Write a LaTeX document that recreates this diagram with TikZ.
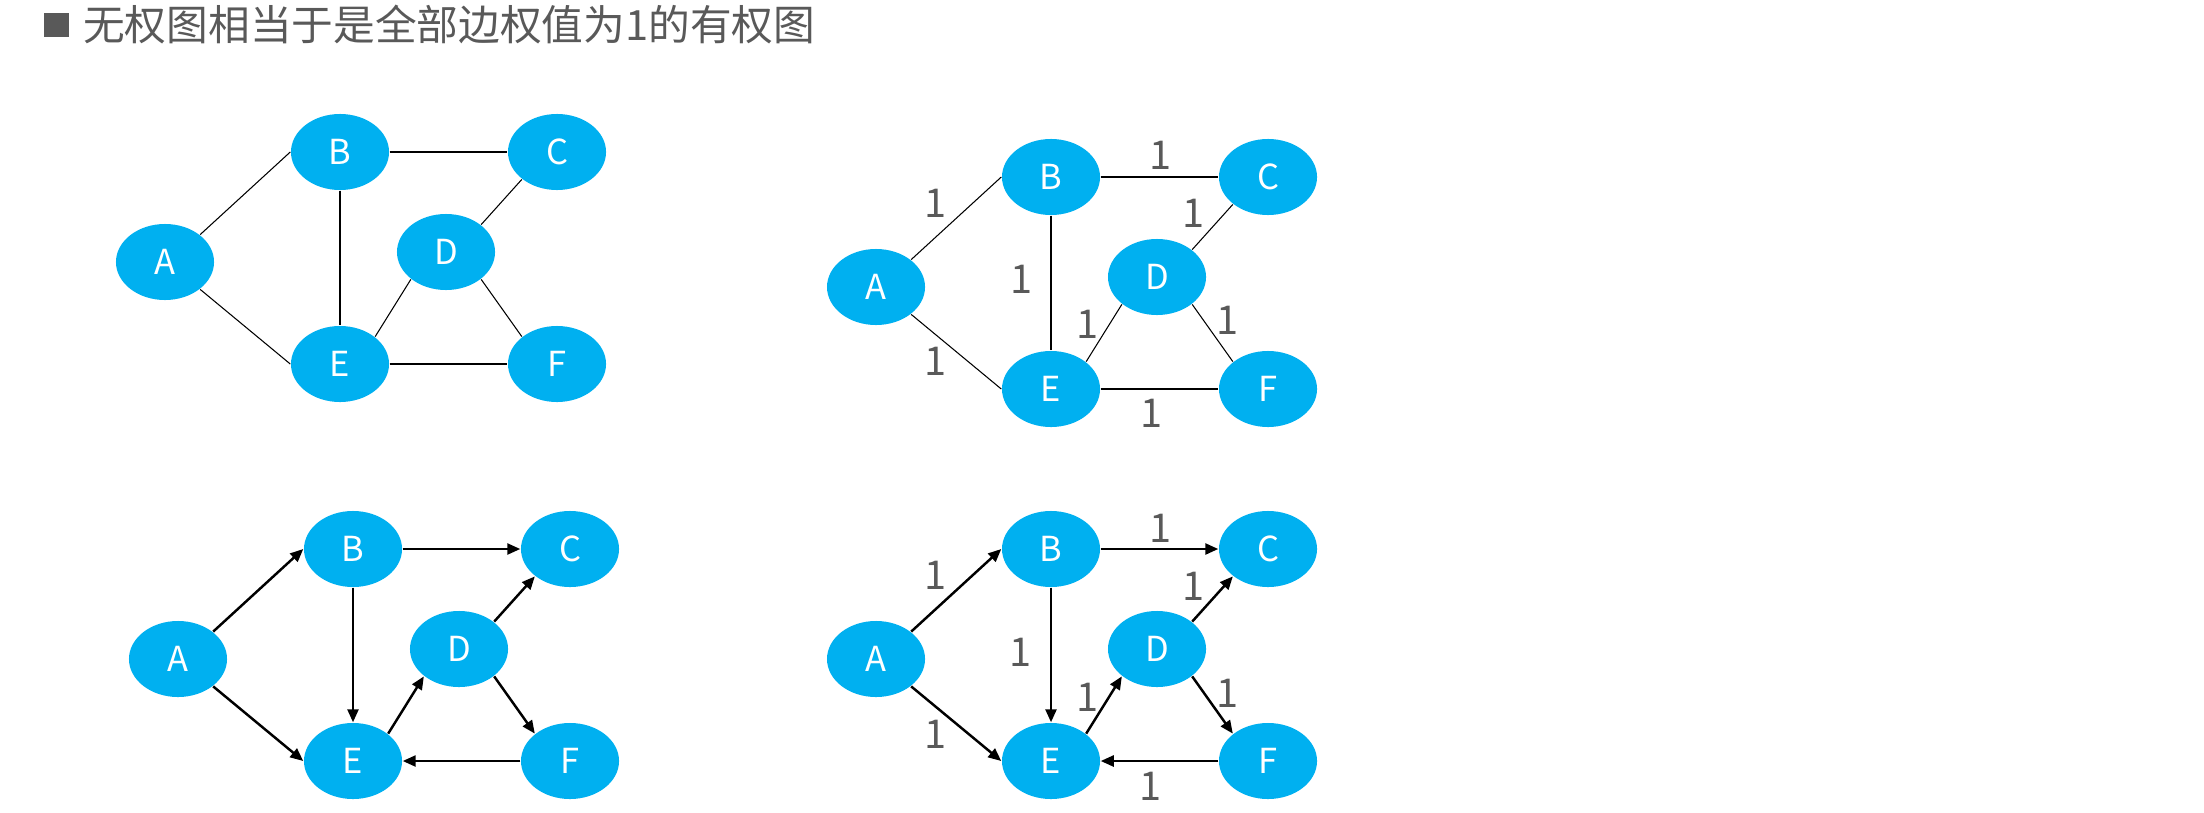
\documentclass[tikz,border=0pt]{standalone}
\usepackage{fontspec}
\setmainfont{Noto Sans CJK SC}
\usepackage{xcolor}
\usetikzlibrary{shapes.geometric, arrows.meta, positioning}

\definecolor{nodeblue}{HTML}{00B0F0}
\definecolor{textgray}{HTML}{595959}

\begin{document}
\begin{tikzpicture}[
    x=0.01cm, y=-0.01cm,
    >={Triangle[length=0.13cm, width=0.11cm]},
    % Vertex ellipses
    vertex/.style={
        ellipse, fill=nodeblue, draw=none, inner sep=0pt,
        minimum width=0.98cm, minimum height=0.76cm,
        text=white, font=\fontsize{9.8pt}{11pt}\selectfont
    },
    % Edge weights
    wt/.style={
        inner sep=0pt, text=textgray,
        font=\fontsize{11.3pt}{13pt}\selectfont
    },
    % Title
    hdr/.style={
        inner sep=0pt, text=textgray,
        font=\fontsize{11.86pt}{14pt}\selectfont
    },
    bulletbox/.style={
        rectangle, fill=textgray, inner sep=0pt, minimum size=0.245cm
    },
    % Undirected edge
    plain/.style={line width=0.3pt, black},
    % Directed edge
    arr/.style={->, line width=0.7pt, black},
]
\useasboundingbox (0,0) rectangle (2204,812);

% ===== TITLE =====
\node[bulletbox] (bullet) at (56.5,25) {};
\node[hdr, right=0.13cm of bullet] (title) {无权图相当于是全部边权值为1的有权图};

% ===== UNDIRECTED, NO WEIGHTS =====
\begin{scope}[shift={(0,0)}]
\node[vertex] (A1) at (165,262) {A};
\node[vertex] (B1) at (340,152) {B};
\node[vertex] (C1) at (557,152) {C};
\node[vertex] (D1) at (446,252) {D};
\node[vertex] (E1) at (340,364) {E};
\node[vertex] (F1) at (557,364) {F};

\draw[plain] (A1.north east) -- (B1.west);
\draw[plain] (A1.south east) -- (E1.west);
\draw[plain] (B1.east) -- (C1.west);
\draw[plain] (B1.south) -- (E1.north);
\draw[plain] (D1.north east) -- (C1.south west);
\draw[plain] (E1.north east) -- (D1.south west);
\draw[plain] (D1.south east) -- (F1.north west);
\draw[plain] (E1.east) -- (F1.west);
\end{scope}

% ===== UNDIRECTED, WEIGHT 1 =====
\begin{scope}[shift={(711,25)}]
\node[vertex] (A2) at (165,262) {A};
\node[vertex] (B2) at (340,152) {B};
\node[vertex] (C2) at (557,152) {C};
\node[vertex] (D2) at (446,252) {D};
\node[vertex] (E2) at (340,364) {E};
\node[vertex] (F2) at (557,364) {F};

\draw[plain] (A2.north east) -- node[wt, shift={(-21,-15)}] {1} (B2.west);
\draw[plain] (A2.south east) -- node[wt, shift={(-21,10)}] {1} (E2.west);
\draw[plain] (B2.east) -- node[wt, shift={(1,-22)}] {1} (C2.west);
\draw[plain] (B2.south) -- node[wt, shift={(-29,-4)}] {1} (E2.north);
\draw[plain] (D2.north east) -- node[wt, shift={(-19,-14)}] {1} (C2.south west);
\draw[plain] (E2.north east) -- node[wt, shift={(-16,-9)}] {1} (D2.south west);
\draw[plain] (D2.south east) -- node[wt, shift={(15,-13)}] {1} (F2.north west);
\draw[plain] (E2.east) -- node[wt, shift={(-8,24)}] {1} (F2.west);
\end{scope}

% ===== DIRECTED, NO WEIGHTS =====
\begin{scope}[shift={(13,397)}]
\node[vertex] (A3) at (165,262) {A};
\node[vertex] (B3) at (340,152) {B};
\node[vertex] (C3) at (557,152) {C};
\node[vertex] (D3) at (446,252) {D};
\node[vertex] (E3) at (340,364) {E};
\node[vertex] (F3) at (557,364) {F};

\draw[arr] (A3.north east) -- (B3.west);
\draw[arr] (A3.south east) -- (E3.west);
\draw[arr] (B3.east) -- (C3.west);
\draw[arr] (B3.south) -- (E3.north);
\draw[arr] (D3.north east) -- (C3.south west);
\draw[arr] (E3.north east) -- (D3.south west);
\draw[arr] (D3.south east) -- (F3.north west);
\draw[arr] (F3.west) -- (E3.east);
\end{scope}

% ===== DIRECTED, WEIGHT 1 =====
\begin{scope}[shift={(711,397)}]
\node[vertex] (A4) at (165,262) {A};
\node[vertex] (B4) at (340,152) {B};
\node[vertex] (C4) at (557,152) {C};
\node[vertex] (D4) at (446,252) {D};
\node[vertex] (E4) at (340,364) {E};
\node[vertex] (F4) at (557,364) {F};

\draw[arr] (A4.north east) -- node[wt, shift={(-21,-15)}] {1} (B4.west);
\draw[arr] (A4.south east) -- node[wt, shift={(-21,11)}] {1} (E4.west);
\draw[arr] (B4.east) -- node[wt, shift={(1,-21)}] {1} (C4.west);
\draw[arr] (B4.south) -- node[wt, shift={(-30,-3)}] {1} (E4.north);
\draw[arr] (D4.north east) -- node[wt, shift={(-19,-13)}] {1} (C4.south west);
\draw[arr] (E4.north east) -- node[wt, shift={(-16,-8)}] {1} (D4.south west);
\draw[arr] (D4.south east) -- node[wt, shift={(15,-12)}] {1} (F4.north west);
\draw[arr] (F4.west) -- node[wt, shift={(-9,25)}] {1} (E4.east);
\end{scope}

\end{tikzpicture}
\end{document}
